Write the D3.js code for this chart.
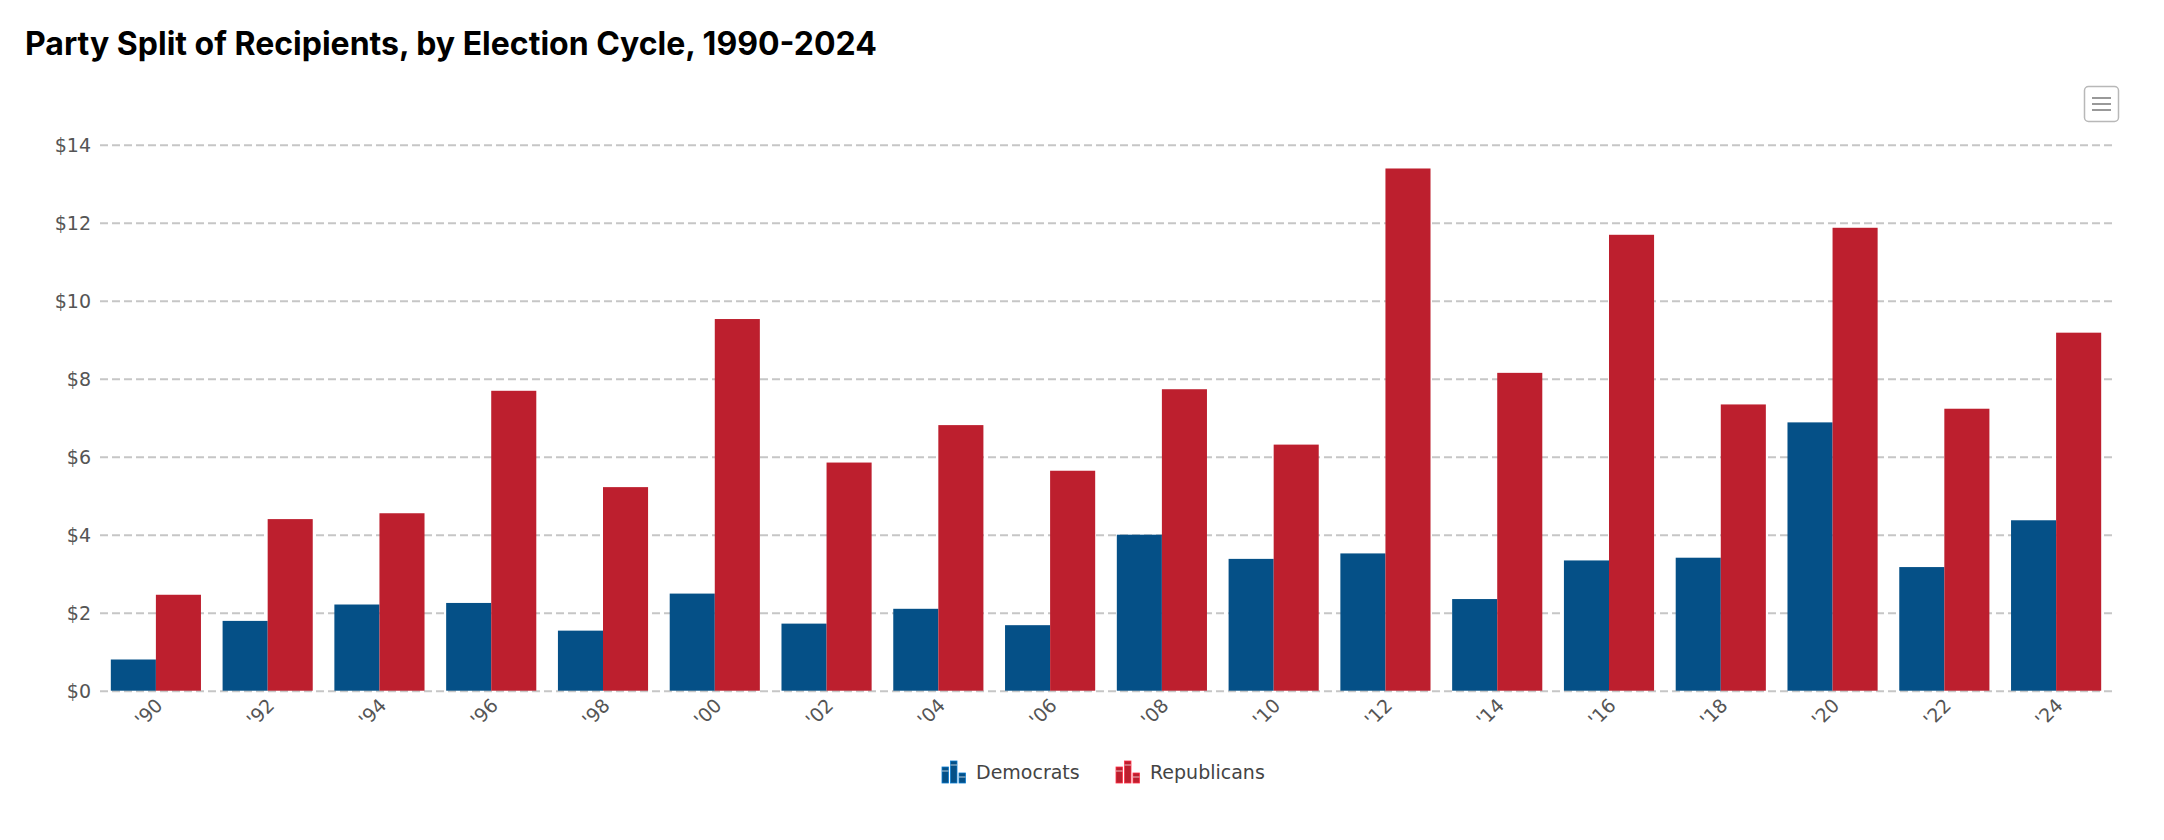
<!DOCTYPE html>
<html>
<head>
<meta charset="utf-8">
<script src="https://d3js.org/d3.v7.min.js"></script>
<style>
  body { margin: 0; background: #fff; }
  .grid line { stroke: #c6c6c6; stroke-width: 2; stroke-dasharray: 8,4; }
  .grid path { display: none; }
  .ylab text, .xlab text { font-family: "DejaVu Sans", Verdana, sans-serif; font-size: 19px; fill: #555; }
  .legend text { font-family: "DejaVu Sans", Verdana, sans-serif; font-size: 19px; fill: #444; }
</style>
</head>
<body>
<div id="vis"></div>
<script>
  // data (millions of dollars)
  var cycles = ["'90", "'92", "'94", "'96", "'98", "'00", "'02", "'04", "'06",
                "'08", "'10", "'12", "'14", "'16", "'18", "'20", "'22", "'24"]
  var democrats = [0.80, 1.79, 2.21, 2.25, 1.54, 2.49, 1.72, 2.10, 1.68,
                   4.00, 3.38, 3.52, 2.35, 3.34, 3.41, 6.88, 3.17, 4.37]
  var republicans = [2.46, 4.40, 4.55, 7.69, 5.22, 9.53, 5.85, 6.81, 5.64,
                     7.73, 6.31, 13.39, 8.15, 11.69, 7.34, 11.87, 7.23, 9.18]
  var yTicks = [0, 2, 4, 6, 8, 10, 12, 14]
  var parties = ["Democrats", "Republicans"]
  var partyColors = ["#055087", "#bd1f2e"]

  var W = 2164, H = 840
  var plotLeft = 100, plotRight = 2112, plotTop = 144.7, plotBottom = 690.7

  var svg = d3.select("#vis").append("svg")
    .attr("width", W).attr("height", H)

  // title
  svg.append("text")
    .attr("x", 25).attr("y", 55)
    .style("font-family", "Inter, 'Noto Sans', sans-serif")
    .style("font-weight", 700)
    .style("font-size", "32px")
    .style("fill", "#000")
    .text("Party Split of Recipients, by Election Cycle, 1990-2024")

  // menu button
  var menu = svg.append("g")
  menu.append("rect")
    .attr("x", 2084.5).attr("y", 86.5).attr("width", 34).attr("height", 35)
    .attr("rx", 4).attr("fill", "#fff").attr("stroke", "#b8b8b8").attr("stroke-width", 1.5)
  menu.selectAll("line").data([98, 104, 110]).enter().append("line")
    .attr("x1", 2092).attr("x2", 2111)
    .attr("y1", function (d) { return d }).attr("y2", function (d) { return d })
    .attr("stroke", "#999").attr("stroke-width", 2)

  var x0 = d3.scaleBand().domain(cycles).range([plotLeft, plotRight])
  var x1 = d3.scaleBand().domain(parties).range([0, x0.bandwidth()]).paddingOuter(0.24)
  var y = d3.scaleLinear().domain([0, 14]).range([plotBottom, plotTop])

  // dashed grid
  svg.append("g")
    .attr("class", "grid")
    .attr("transform", "translate(" + plotLeft + ",0)")
    .call(d3.axisLeft(y).tickValues(yTicks).tickSize(-(plotRight - plotLeft)).tickFormat(""))

  // y labels
  var ya = svg.append("g")
    .attr("class", "ylab")
    .attr("transform", "translate(" + plotLeft + ",0)")
    .call(d3.axisLeft(y).tickValues(yTicks).tickSize(0).tickPadding(9)
      .tickFormat(function (d) { return "$" + d }))
  ya.select(".domain").remove()
  ya.selectAll("text").attr("dy", "0.35em")

  // bars
  var groups = svg.append("g").selectAll("g")
    .data(cycles).enter().append("g")
    .attr("transform", function (d) { return "translate(" + x0(d) + ",0)" })

  groups.selectAll("rect")
    .data(function (d, i) {
      return [{ p: parties[0], v: democrats[i] }, { p: parties[1], v: republicans[i] }]
    })
    .enter().append("rect")
    .attr("x", function (d) { return x1(d.p) })
    .attr("width", x1.bandwidth())
    .attr("y", function (d) { return y(d.v) })
    .attr("height", function (d) { return plotBottom - y(d.v) })
    .attr("fill", function (d, i) { return partyColors[i] })

  // x labels
  var xa = svg.append("g")
    .attr("class", "xlab")
    .attr("transform", "translate(0," + plotBottom + ")")
    .call(d3.axisBottom(x0).tickSize(0).tickPadding(0))
  xa.select(".domain").remove()
  xa.selectAll("text")
    .attr("text-anchor", "end")
    .attr("dy", null)
    .attr("y", 0)
    .attr("transform", "translate(8,16) rotate(-45)")

  // legend
  var legendX = [942, 1116]
  var lg = svg.append("g").attr("class", "legend")
  var items = lg.selectAll("g").data(parties).enter().append("g")
    .attr("transform", function (d, i) { return "translate(" + legendX[i] + ",783)" })
  items.each(function (d, i) {
    var g = d3.select(this)
    var hs = [16, 22, 10]
    hs.forEach(function (h, j) {
      g.append("rect")
        .attr("x", j * 8.5).attr("y", -h).attr("width", 6.5).attr("height", h)
        .attr("fill", partyColors[i]).attr("stroke", d3.color(partyColors[i]).brighter(1.2))
        .attr("stroke-width", 0.8)
      g.append("rect")
        .attr("x", j * 8.5).attr("y", -h + 3).attr("width", 6.5).attr("height", 2)
        .attr("fill", "#fff").attr("opacity", 0.35)
    })
    g.append("text").attr("x", 34).attr("y", -4).text(d)
  })
</script>
</body>
</html>
